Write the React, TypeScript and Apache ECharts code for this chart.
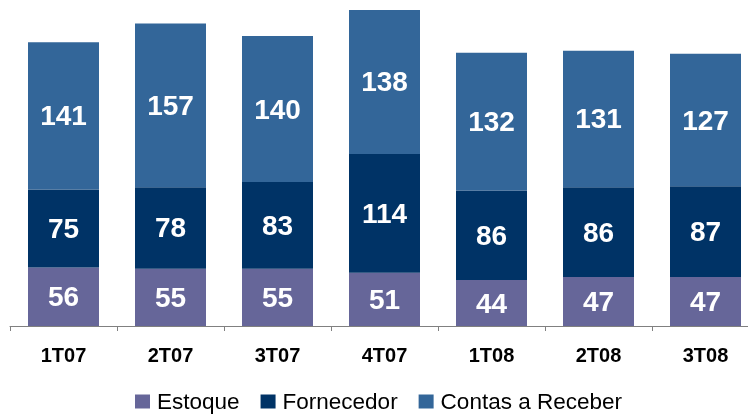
import React, { useEffect, useRef } from "react";
import * as echarts from "echarts";

const categories = ["1T07", "2T07", "3T07", "4T07", "1T08", "2T08", "3T08"];
const estoque = [56, 55, 55, 51, 44, 47, 47];
const fornecedor = [75, 78, 83, 114, 86, 86, 87];
const contasReceber = [141, 157, 140, 138, 132, 131, 127];
const seriesNames = ["Estoque", "Fornecedor", "Contas a Receber"];
const colors = ["#666699", "#003366", "#336699"];

const FONT = "'Liberation Sans', Arial, Helvetica, sans-serif";

export default function App() {
  const ref = useRef<HTMLDivElement>(null);
  useEffect(() => {
    if (!ref.current) return;
    const chart = echarts.init(ref.current, undefined, { renderer: "svg" });
    const data = [estoque, fornecedor, contasReceber];
    chart.setOption({
      animation: false,
      textStyle: { fontFamily: FONT },
      grid: { left: 10, width: 749, top: 10, height: 316, containLabel: false },
      legend: {
        data: seriesNames,
        bottom: -4,
        left: 130,
        itemWidth: 15,
        itemHeight: 14,
        itemGap: 21,
        icon: "rect",
        textStyle: {
          fontSize: 22.5,
          color: "#000",
          fontFamily: FONT,
          padding: [0, 0, 0, 2],
        },
      },
      xAxis: {
        type: "category",
        data: categories,
        axisLine: { show: true, lineStyle: { color: "#808080", width: 1 } },
        axisTick: { show: true, length: 5, lineStyle: { color: "#808080" } },
        axisLabel: {
          margin: 19,
          fontSize: 20,
          fontWeight: "bold",
          color: "#000",
          fontFamily: FONT,
        },
      },
      yAxis: {
        type: "value",
        min: 0,
        max: 303,
        show: false,
        splitLine: { show: false },
      },
      series: seriesNames.map((name, i) => ({
        name,
        type: "bar",
        stack: "total",
        barWidth: 71,
        data: data[i],
        itemStyle: { color: colors[i] },
        label: {
          show: true,
          position: "inside",
          color: "#fff",
          fontSize: 28,
          fontWeight: "bold",
          fontFamily: FONT,
        },
      })),
    });
    return () => chart.dispose();
  }, []);
  return (
    <div
      ref={ref}
      style={{ position: "fixed", left: 0, top: 0, width: 770, height: 414 }}
    />
  );
}
